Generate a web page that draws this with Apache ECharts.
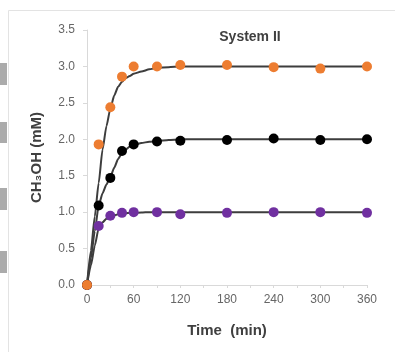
<!DOCTYPE html>
<html>
<head>
<meta charset="utf-8">
<script src="https://cdn.jsdelivr.net/npm/echarts@6/dist/echarts.min.js"></script>
<style>
  html, body { margin: 0; padding: 0; background: #fff; }
  #grafico { width: 395px; height: 352px; }
</style>
</head>
<body>
<div id="grafico"></div>
<script>
// tempos das medidas (min)
var tempos = [0, 15, 30, 45, 60, 90, 120, 180, 240, 300, 360];

// pontos medidos (mM)
var laranja = [0, 1.93, 2.44, 2.86, 3.0, 3.0, 3.02, 3.02, 2.99, 2.97, 3.0];
var preto   = [0, 1.09, 1.47, 1.84, 1.93, 1.97, 1.98, 1.99, 2.01, 1.99, 2.0];
var roxo    = [0, 0.81, 0.95, 0.99, 1.0, 1.0, 0.97, 0.99, 1.0, 1.0, 0.99];

// curvas ajustadas (tempo, mM)
var tempoAjuste = [0, 5, 10, 15, 20, 25, 30, 35, 40, 45, 50, 55, 60, 70, 80, 90, 105, 120, 180, 240, 300, 360];
var ajusteLaranja = [0, 0.47, 0.94, 1.4, 1.86, 2.18, 2.42, 2.6, 2.72, 2.79, 2.84, 2.87, 2.9, 2.93, 2.96, 2.98, 2.99, 3.0, 3.0, 3.0, 3.0, 3.0];
var ajustePreto   = [0, 0.37, 0.74, 1.09, 1.26, 1.38, 1.48, 1.61, 1.73, 1.81, 1.86, 1.9, 1.92, 1.95, 1.965, 1.975, 1.99, 2.0, 2.0, 2.0, 2.0, 2.0];
var ajusteRoxo    = [0, 0.27, 0.54, 0.78, 0.86, 0.91, 0.93, 0.955, 0.97, 0.98, 0.985, 0.99, 0.99, 0.995, 1.0, 1.0, 1.0, 1.0, 1.0, 1.0, 1.0, 1.0];

var ticksX = [0, 60, 120, 180, 240, 300, 360];

function pares(xs, ys) {
    return xs.map(function (x, i) { return [x, ys[i]]; });
}

function curva(ys) {
    return {
        type: 'line',
        data: pares(tempoAjuste, ys),
        showSymbol: false,
        smooth: 0.2,
        smoothMonotone: 'x',
        lineStyle: { color: '#3d3d3d', width: 2 },
        z: 2
    };
}

function pontos(ys, cor) {
    return {
        type: 'scatter',
        data: pares(tempos, ys),
        symbolSize: 10,
        itemStyle: { color: cor, opacity: 1 },
        z: 3
    };
}

var myChart = echarts.init(document.getElementById('grafico'));
var option = {
    animation: false,
    backgroundColor: '#fff',
    textStyle: { fontFamily: 'Liberation Sans, Arial, sans-serif' },
    title: {
        text: 'System II',
        left: 245,
        top: 25,
        textAlign: 'center',
        textStyle: { fontSize: 14, fontWeight: 'bold', color: '#404040' }
    },
    graphic: [
        { type: 'rect', shape: { x: 8.5, y: 10.5, width: 400, height: 360 },
          style: { fill: 'none', stroke: '#e3e3e3', lineWidth: 1 } },
        { type: 'rect', shape: { x: 0, y: 63, width: 7, height: 22 }, style: { fill: '#ababab' } },
        { type: 'rect', shape: { x: 0, y: 122, width: 7, height: 21 }, style: { fill: '#ababab' } },
        { type: 'rect', shape: { x: 0, y: 188, width: 7, height: 22 }, style: { fill: '#ababab' } },
        { type: 'rect', shape: { x: 0, y: 251, width: 7, height: 22 }, style: { fill: '#ababab' } }
    ],
    grid: { left: 87, right: 28, top: 30, bottom: 67 },
    xAxis: {
        type: 'value',
        min: 0,
        max: 360,
        interval: 60,
        name: 'Time  (min)',
        nameLocation: 'middle',
        nameGap: 38,
        nameTextStyle: { fontSize: 15, fontWeight: 'bold', color: '#404040' },
        axisLine: { lineStyle: { color: '#d9d9d9', width: 1 } },
        axisTick: { show: true, length: 3, lineStyle: { color: '#d9d9d9' } },
        minorTick: { show: true, splitNumber: 2, length: 3, lineStyle: { color: '#d9d9d9' } },
        axisLabel: {
            fontSize: 12, color: '#666666', margin: 9,
            formatter: function (v) { return ticksX.indexOf(v) >= 0 ? String(v) : ''; }
        },
        splitLine: { show: false }
    },
    yAxis: {
        type: 'value',
        min: 0,
        max: 3.5,
        interval: 0.5,
        name: 'CH₃OH (mM)',
        nameLocation: 'middle',
        nameGap: 43,
        nameTextStyle: { fontSize: 15, fontWeight: 'bold', color: '#404040' },
        axisLine: { show: true, lineStyle: { color: '#d9d9d9', width: 1 } },
        axisTick: { show: true, length: 4, lineStyle: { color: '#d9d9d9' } },
        axisLabel: {
            fontSize: 12, color: '#666666', margin: 12,
            formatter: function (v) { return v.toFixed(1); }
        },
        splitLine: { show: false }
    },
    series: [
        curva(ajusteRoxo),
        curva(ajustePreto),
        curva(ajusteLaranja),
        pontos(roxo, '#7030a0'),
        pontos(preto, '#000000'),
        pontos(laranja, '#ed7d31')
    ]
};

myChart.setOption(option);
</script>
</body>
</html>
